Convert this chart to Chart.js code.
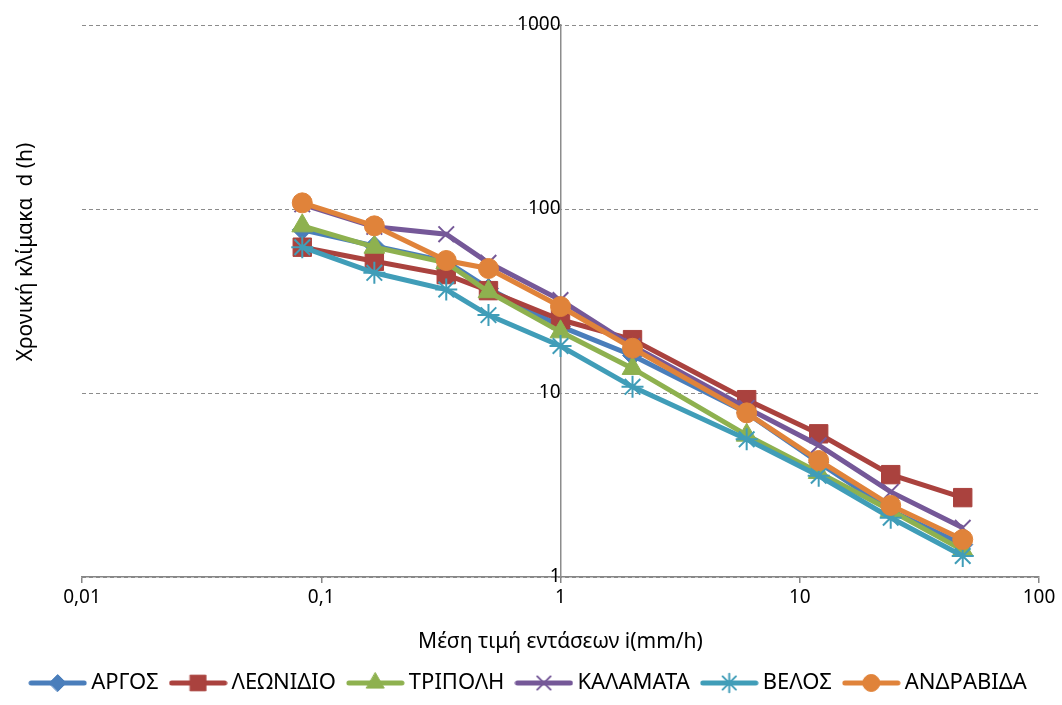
<!DOCTYPE html>
<html>
<head>
<meta charset="utf-8">
<title>Χρονική κλίμακα - Μέση τιμή εντάσεων</title>
<script src="https://cdn.jsdelivr.net/npm/chart.js@4.4.0/dist/chart.umd.min.js"></script>
<style>
    html, body { margin: 0; padding: 0; background: #ffffff; }
    #wrap { width: 1062px; height: 705px; }
</style>
</head>
<body>
<div id="wrap"><canvas id="idfChart" width="1062" height="705"></canvas></div>
<script>
/* ==========================================
        DATA
========================================== */

const durations = [0.0833, 0.1667, 0.333, 0.5, 1, 2, 6, 12, 24, 48];

const stations = ["ΑΡΓΟΣ", "ΛΕΩΝΙΔΙΟ", "ΤΡΙΠΟΛΗ", "ΚΑΛΑΜΑΤΑ", "ΒΕΛΟΣ", "ΑΝΔΡΑΒΙΔΑ"];

const argos     = [77, 63, 52, 37, 23, 16, 7.8, 4.2, 2.3, 1.5];
const leonidio  = [62, 52, 44, 36, 25, 19.5, 9.2, 6.0, 3.6, 2.7];
const tripoli   = [81, 62, 51, 35.5, 21.5, 13.6, 5.9, 3.7, 2.3, 1.4];
const kalamata  = [106, 80, 73, 51, 32, 18, 8.3, 5.2, 2.9, 1.85];
const velos     = [62, 45, 36.5, 26.5, 18, 10.8, 5.6, 3.55, 2.1, 1.3];
const andravida = [108, 81, 52.5, 47.5, 29.5, 17.5, 7.8, 4.3, 2.45, 1.6];

const xTickValues = [0.01, 0.1, 1, 10, 100];
const xTickLabels = ["0,01", "0,1", "1", "10", "100"];
const yTickValues = [1, 10, 100, 1000];
const yTickLabels = ["1", "10", "100", "1000"];

const xTitle = "Μέση τιμή εντάσεων i(mm/h)";
const yTitle = "Χρονική κλίμακα  d (h)";

/* ==========================================
        STYLES
========================================== */

const FONT = "'Noto Sans', 'DejaVu Sans', sans-serif";

const seriesStyles = [
    { color: "#4A7EBB", point: "rectRot",  radius: 10, border: 1 },
    { color: "#AA423E", point: "rect",     radius: 13, border: 1 },
    { color: "#8EB14F", point: "triangle", radius: 12, border: 1 },
    { color: "#755898", point: "crossRot", radius: 11, border: 2 },
    { color: "#409DB8", point: "star",     radius: 11, border: 2 },
    { color: "#E0833A", point: "circle",   radius: 10, border: 1 }
];

const seriesValues = [argos, leonidio, tripoli, kalamata, velos, andravida];

/* ==========================================
        LEGEND ICONS (line + marker)
========================================== */

function makeLegendIcon(style) {

    const icon = document.createElement("canvas");
    icon.width = 59;
    icon.height = 26;

    const c = icon.getContext("2d");

    c.strokeStyle = style.color;
    c.fillStyle = style.color;
    c.lineWidth = 5;
    c.lineCap = "round";

    c.beginPath();
    c.moveTo(3, 13);
    c.lineTo(56, 13);
    c.stroke();

    c.lineWidth = style.border;
    Chart.helpers.drawPoint(c, {
        pointStyle: style.point,
        radius: style.radius * 0.85,
        borderWidth: style.border,
        rotation: 0
    }, 29.5, 13);

    return icon;

}

/* ==========================================
        DATASETS
========================================== */

const datasets = stations.map((name, i) => {

    const st = seriesStyles[i];

    return {
        label: name,
        data: durations.map((d, j) => ({ x: d, y: seriesValues[i][j] })),
        borderColor: st.color,
        backgroundColor: st.color,
        borderWidth: 5,
        pointStyle: st.point,
        pointRadius: st.radius,
        pointHoverRadius: st.radius,
        pointBorderWidth: st.border,
        pointBorderColor: st.color,
        pointBackgroundColor: st.color,
        tension: 0,
        fill: false,
        order: stations.length - i,
        legendIcon: makeLegendIcon(st)
    };

});

/* ==========================================
        Y TITLE PLUGIN
========================================== */

const yTitlePlugin = {

    id: "yTitleLeft",

    afterDraw(chart) {

        const ctx = chart.ctx;

        ctx.save();
        ctx.translate(26, 252);
        ctx.rotate(-Math.PI / 2);
        ctx.font = "21px " + FONT;
        ctx.fillStyle = "#000000";
        ctx.textAlign = "center";
        ctx.textBaseline = "middle";
        ctx.fillText(yTitle, 0, 0);
        ctx.restore();

    }

};

/* ==========================================
        SPACER AXES (reserve side margins)
========================================== */

function spacerAxis(side, width) {

    return {
        type: "linear",
        position: side,
        display: true,
        grid: { display: false },
        border: { display: false },
        ticks: { display: false },
        afterFit(scale) {
            scale.width = width;
        }
    };

}

/* ==========================================
        CHART
========================================== */

const ctx = document.getElementById("idfChart").getContext("2d");

const idfChart = new Chart(ctx, {

    type: "line",

    data: { datasets },

    options: {

        responsive: false,
        animation: false,
        devicePixelRatio: 1,

        layout: {
            padding: { left: 0, right: 0, top: 25, bottom: 1 }
        },

        plugins: {

            legend: {
                position: "bottom",
                labels: {
                    usePointStyle: true,
                    pointStyleWidth: 45,
                    padding: 17,
                    color: "#000000",
                    font: { size: 22, family: FONT },
                    generateLabels(chart) {
                        return chart.data.datasets.map((ds, i) => ({
                            text: ds.label,
                            datasetIndex: i,
                            pointStyle: ds.legendIcon,
                            fillStyle: ds.borderColor,
                            strokeStyle: ds.borderColor,
                            lineWidth: 0,
                            hidden: !chart.isDatasetVisible(i),
                            fontColor: "#000000"
                        }));
                    }
                }
            },

            tooltip: { enabled: false }

        },

        scales: {

            x: {
                type: "logarithmic",
                position: "bottom",
                min: 0.01,
                max: 100,
                afterBuildTicks(scale) {
                    scale.ticks = xTickValues.map(v => ({ value: v }));
                },
                ticks: {
                    autoSkip: false,
                    maxRotation: 0,
                    padding: 3,
                    color: "#000000",
                    font: { size: 19, family: FONT },
                    callback: (value, index) => xTickLabels[index]
                },
                grid: {
                    drawOnChartArea: false,
                    drawTicks: true,
                    tickLength: 6,
                    color: "#868686",
                    lineWidth: 1.5
                },
                border: {
                    display: true,
                    color: "#868686",
                    width: 1.5
                },
                title: {
                    display: true,
                    text: xTitle,
                    color: "#000000",
                    font: { size: 21, family: FONT },
                    padding: { top: 18, bottom: 0 }
                }
            },

            y: {
                type: "logarithmic",
                position: { x: 1 },
                min: 1,
                max: 1000,
                afterBuildTicks(scale) {
                    scale.ticks = yTickValues.map(v => ({ value: v }));
                },
                ticks: {
                    autoSkip: false,
                    color: "#000000",
                    font: { size: 19, family: FONT },
                    callback: (value, index) => yTickLabels[index]
                },
                grid: {
                    drawTicks: false,
                    color: "#8c8c8c",
                    lineWidth: 1
                },
                border: {
                    display: true,
                    color: "#8c8c8c",
                    width: 1.5,
                    dash: [4, 3]
                }
            },

            yLeftSpace: spacerAxis("left", 82),

            yRightSpace: spacerAxis("right", 23)

        }

    },

    plugins: [yTitlePlugin]

});
</script>
</body>
</html>
